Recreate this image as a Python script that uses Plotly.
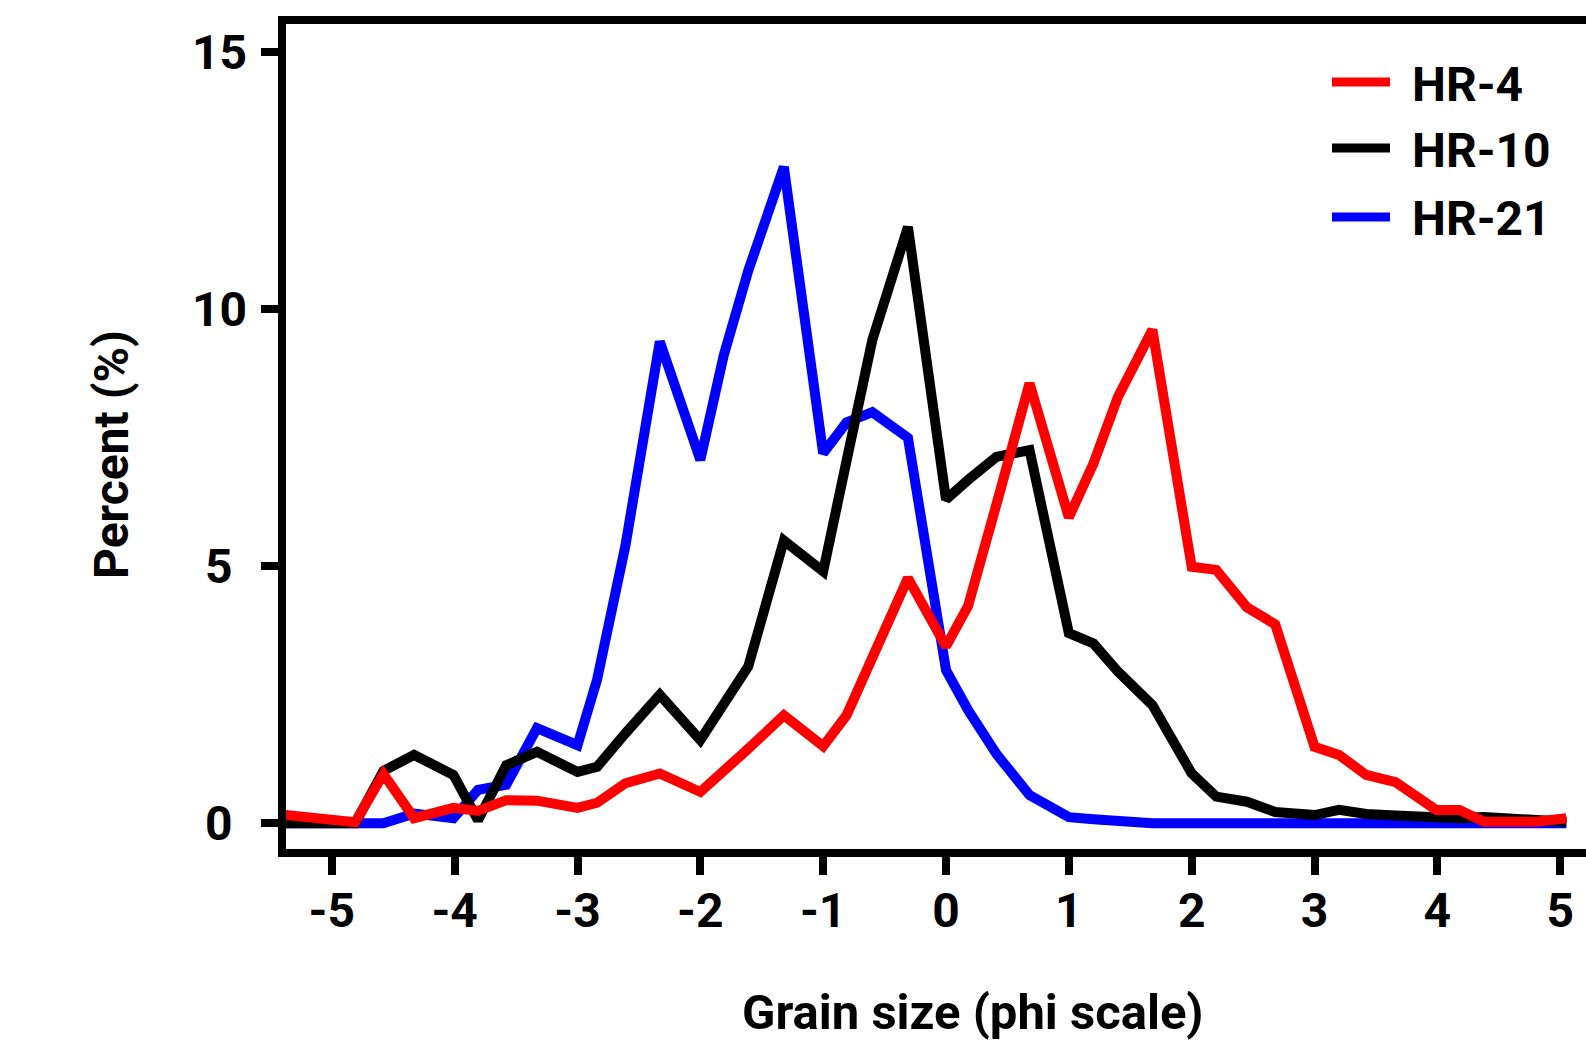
import plotly.graph_objects as go

# Grain-size distributions (percent retained per sieve class, phi scale)
phi = [-5.40, -4.81, -4.58, -4.33, -4.01, -3.81, -3.58, -3.33, -3.00, -2.84,
       -2.61, -2.33, -2.00, -1.81, -1.61, -1.32, -1.00, -0.81, -0.60, -0.31,
       0.00, 0.18, 0.41, 0.68, 1.00, 1.20, 1.40, 1.68, 2.00, 2.20,
       2.45, 2.68, 3.00, 3.20, 3.42, 3.66, 3.99, 4.18, 4.38, 4.62,
       4.80, 5.05]

hr4 = [0.17, 0.02, 0.96, 0.10, 0.30, 0.24, 0.45, 0.44, 0.30, 0.40,
       0.78, 0.97, 0.61, 1.00, 1.45, 2.10, 1.50, 2.10, 3.20, 4.77,
       3.44, 4.23, 6.20, 8.56, 5.95, 7.00, 8.30, 9.60, 4.99, 4.93,
       4.20, 3.87, 1.49, 1.33, 0.94, 0.80, 0.26, 0.26, 0.03, 0.03,
       0.03, 0.10]

hr10 = [0.00, 0.00, 1.02, 1.33, 0.94, 0.06, 1.13, 1.39, 1.00, 1.10,
        1.75, 2.50, 1.62, 2.30, 3.05, 5.50, 4.90, 7.05, 9.40, 11.60,
        6.30, 6.68, 7.13, 7.26, 3.70, 3.50, 2.95, 2.30, 0.97, 0.52,
        0.42, 0.22, 0.16, 0.26, 0.18, 0.15, 0.10, 0.10, 0.12, 0.10,
        0.05, 0.03]

hr21 = [0.00, 0.00, 0.00, 0.19, 0.10, 0.65, 0.75, 1.85, 1.52, 2.80,
        5.40, 9.37, 7.07, 9.10, 10.75, 12.77, 7.20, 7.80, 8.00, 7.50,
        2.98, 2.20, 1.35, 0.55, 0.12, 0.08, 0.03, 0.00, 0.00, 0.00,
        0.00, 0.00, 0.00, 0.00, 0.00, 0.00, 0.00, 0.00, 0.00, 0.00,
        0.00, 0.00]

series_names = ["HR-4", "HR-10", "HR-21"]
series_values = [hr4, hr10, hr21]
series_colors = ["#ff0000", "#000000", "#0000ff"]

x_ticks = [-5, -4, -3, -2, -1, 0, 1, 2, 3, 4, 5]
x_tick_text = ["-5", "-4", "-3", "-2", "-1", "0", "1", "2", "3", "4", "5"]
y_ticks = [0, 5, 10, 15]
y_tick_text = ["0", "5", "10", "15"]

W, H = 1586, 1056
ML, MR, MT, MB = 286, 0, 24, 207
FONT = "Roboto"
LINE_W = 10
TICK_FONT = dict(family=FONT, size=48, color="black", weight="bold")

fig = go.Figure()
# Draw HR-21 first and HR-4 last so the red curve sits on top
for name, vals, col in reversed(list(zip(series_names, series_values, series_colors))):
    fig.add_trace(go.Scatter(
        x=phi, y=vals, mode="lines", name=name,
        line=dict(color=col, width=LINE_W, shape="linear"),
        showlegend=False,
    ))


def px_to_paper(px, py):
    """Convert page pixel coordinates into paper coordinates."""
    pw = W - ML - MR
    ph = H - MT - MB
    return (px - ML) / pw, (H - MB - py) / ph


shapes = []
annotations = []

# Legend drawn as line samples with labels
legend_rows = [82, 148, 217]
for name, col, ry in zip(series_names, series_colors, legend_rows):
    x0, y0 = px_to_paper(1332, ry)
    x1, _ = px_to_paper(1390, ry)
    shapes.append(dict(type="line", xref="paper", yref="paper",
                       x0=x0, x1=x1, y0=y0, y1=y0,
                       line=dict(color=col, width=9)))
    tx, ty = px_to_paper(1410, ry + 2)
    annotations.append(dict(text=name, xref="paper", yref="paper",
                            x=tx, y=ty, xanchor="left", yanchor="middle",
                            showarrow=False,
                            font=dict(family=FONT, size=48, color="black",
                                      weight="bold")))

# Centred y tick labels placed on the y scale
ylab_x, _ = px_to_paper(219, 0)
for v, t in zip(y_ticks, y_tick_text):
    annotations.append(dict(text=t, xref="paper", yref="y", x=ylab_x, y=v,
                            xanchor="center", yanchor="middle", showarrow=False,
                            font=TICK_FONT))

# Axis titles
tx, ty = px_to_paper(973, 1012)
annotations.append(dict(text="Grain size (phi scale)", xref="paper", yref="paper",
                        x=tx, y=ty, xanchor="center", yanchor="middle",
                        showarrow=False,
                        font=dict(family=FONT, size=49, color="black", weight="bold")))
tx, ty = px_to_paper(111, 455)
annotations.append(dict(text="Percent (%)", xref="paper", yref="paper",
                        x=tx, y=ty, xanchor="center", yanchor="middle",
                        textangle=-90, showarrow=False,
                        font=dict(family=FONT, size=48, color="black", weight="bold")))

fig.update_layout(
    width=W, height=H,
    margin=dict(l=ML, r=MR, t=MT, b=MB, pad=0),
    paper_bgcolor="white", plot_bgcolor="white",
    shapes=shapes, annotations=annotations,
    xaxis=dict(
        range=[-5.373, 5.21], tickmode="array", tickvals=x_ticks, ticktext=x_tick_text,
        showline=True, linecolor="black", linewidth=8, mirror=True,
        ticks="outside", ticklen=18, tickwidth=8, tickcolor="black",
        showgrid=False, zeroline=False,
        tickfont=TICK_FONT,
        ticklabelstandoff=-6,
    ),
    yaxis=dict(
        range=[-0.50, 15.55], tickmode="array", tickvals=y_ticks,
        showticklabels=False,
        showline=True, linecolor="black", linewidth=8, mirror=False,
        ticks="outside", ticklen=17, tickwidth=8, tickcolor="black",
        showgrid=False, zeroline=False,
    ),
)

fig.write_html("out.html")
